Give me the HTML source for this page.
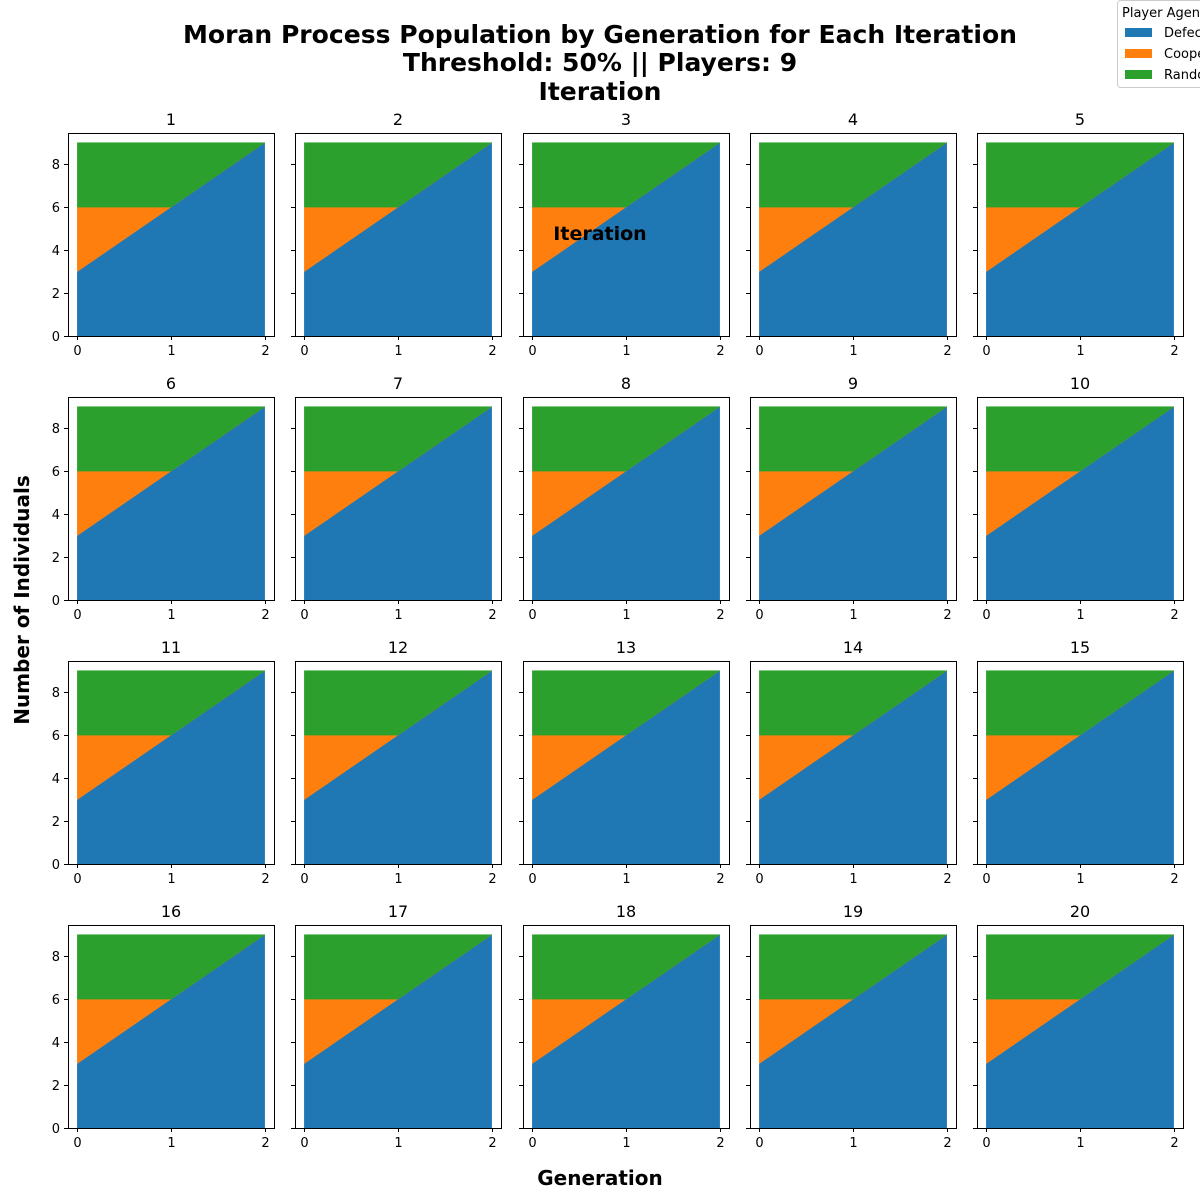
<!DOCTYPE html>
<html><head><meta charset="utf-8">
<style>
html,body{margin:0;padding:0;background:#fff;}
svg{display:block;font-family:"DejaVu Sans","Liberation Sans",sans-serif;}
</style></head>
<body>
<svg id="fig" width="1200" height="1200" viewBox="0 0 1200 1200" xmlns="http://www.w3.org/2000/svg">
<text x="600" y="43" text-anchor="middle" font-size="25" font-weight="bold" textLength="834" lengthAdjust="spacingAndGlyphs">Moran Process Population by Generation for Each Iteration</text>
<text x="600" y="71" text-anchor="middle" font-size="25" font-weight="bold">Threshold: 50% || Players: 9</text>
<text x="600" y="100" text-anchor="middle" font-size="25" font-weight="bold">Iteration</text>
<text x="0" y="0" transform="translate(29,600) rotate(-90)" text-anchor="middle" font-size="20" font-weight="bold">Number of Individuals</text>
<text x="600" y="1185" text-anchor="middle" font-size="20" font-weight="bold">Generation</text>
<g id="panels"></g>
<text x="600" y="240" text-anchor="middle" font-size="19" font-weight="bold">Iteration</text>
<g>
<rect x="1117.5" y="0.5" width="90" height="87" rx="3" fill="#fff" stroke="#ccc"/>
<text x="1122" y="17" font-size="13">Player Agent</text>
<g><rect x="1125" y="28" width="27" height="9" fill="#1f77b4"/><text x="1164" y="37" font-size="13">Defector</text></g>
<g><rect x="1125" y="49" width="27" height="9" fill="#ff7f0e"/><text x="1164" y="58" font-size="13">Cooperator</text></g>
<g><rect x="1125" y="70" width="27" height="9" fill="#2ca02c"/><text x="1164" y="79" font-size="13">Random</text></g>
</g>
</svg>
<script>
const generations = [0, 1, 2];
const defectorCounts = [3, 6, 9];
const cooperatorCounts = [3, 0, 0];
const randomCounts = [3, 3, 0];
const iterations = [1,2,3,4,5,6,7,8,9,10,11,12,13,14,15,16,17,18,19,20];
const yTicks = [0, 2, 4, 6, 8];
const xTicks = [0, 1, 2];

const NS = "http://www.w3.org/2000/svg";
const colLeft = [68, 295, 523, 750, 977];
const rowTop = [133, 397, 661, 925];
const W = 206, H = 203;
const xMin = -0.1, xMax = 2.1, yMin = 0, yMax = 9.45;
const panelsG = document.getElementById('panels');

function mk(tag, attrs, parent) {
  const e = document.createElementNS(NS, tag);
  for (const k in attrs) e.setAttribute(k, attrs[k]);
  parent.appendChild(e);
  return e;
}

iterations.forEach((it, idx) => {
  const c = idx % 5, r = Math.floor(idx / 5);
  const L = colLeft[c], T = rowTop[r];
  const sx = v => L + (v - xMin) / (xMax - xMin) * W;
  const sy = v => T + H - (v - yMin) / (yMax - yMin) * H;
  const g = mk('g', {}, panelsG);
  
  

  const series = [defectorCounts, cooperatorCounts, randomCounts];
  const colors = ['#1f77b4', '#ff7f0e', '#2ca02c'];
  const names = ['defector', 'cooperator', 'random'];
  let base = generations.map(() => 0);
  series.forEach((s, si) => {
    const top = base.map((b, i) => b + s[i]);
    let pts = generations.map((x, i) => sx(x) + ',' + sy(top[i]));
    for (let i = generations.length - 1; i >= 0; i--) pts.push(sx(generations[i]) + ',' + sy(base[i]));
    const p = mk('polygon', { points: pts.join(' '), fill: colors[si], stroke: colors[si], 'stroke-width': 0.5 }, g);
    
    
    base = top;
  });

  const frame = mk('rect', { x: L + 0.5, y: T + 0.5, width: W, height: H, fill: 'none', stroke: '#000', 'stroke-width': 1 }, g);
  
  

  const title = mk('text', { x: L + W / 2, y: T - 8, 'text-anchor': 'middle', 'font-size': 16 }, g);
  
  
  title.textContent = it;

  yTicks.forEach(v => {
    const y = Math.round(sy(v)) + 0.5;
    mk('line', { x1: L - 4, x2: L, y1: y, y2: y, stroke: '#000', 'stroke-width': 1 }, g);
    if (c === 0) {
      const t = mk('text', { x: L - 8, y: y + 4.5, 'text-anchor': 'end', 'font-size': 13 }, g);
      
      
      t.textContent = v;
    }
  });
  xTicks.forEach(v => {
    const x = Math.round(sx(v)) + 0.5;
    mk('line', { x1: x, x2: x, y1: T + H, y2: T + H + 4, stroke: '#000', 'stroke-width': 1 }, g);
    const t = mk('text', { x: x, y: T + H + 19, 'text-anchor': 'middle', 'font-size': 13 }, g);
    
    
    t.textContent = v;
  });
});
</script>
</body></html>
